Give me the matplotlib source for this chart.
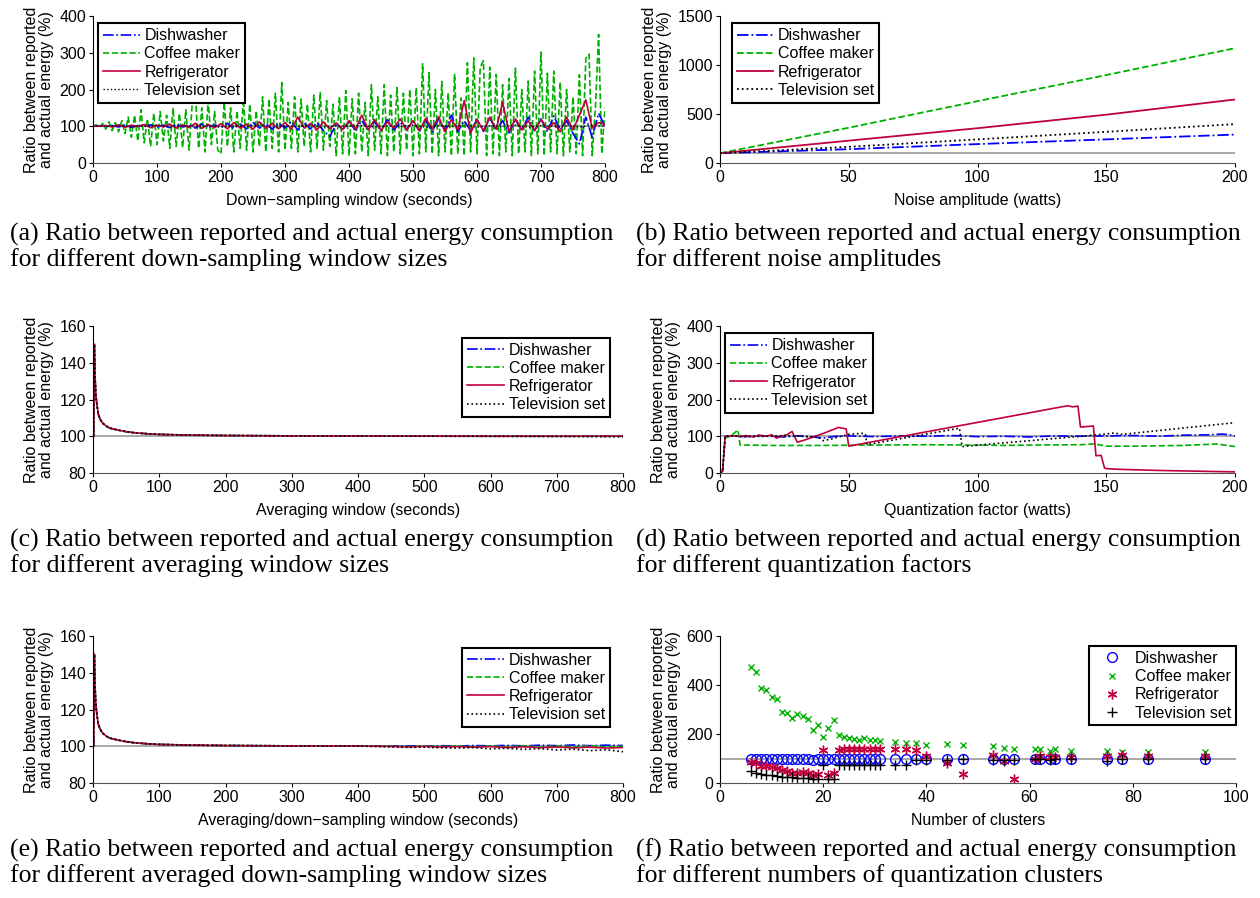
import numpy as np
import matplotlib
matplotlib.use('Agg')
import matplotlib.pyplot as plt

plt.rcParams['font.family'] = ['Liberation Sans', 'DejaVu Sans']
plt.rcParams['font.size'] = 11.5

names = ['Dishwasher', 'Coffee maker', 'Refrigerator', 'Television set']
colors = ['#0000ff', '#00b000', '#c0003c', 'black']
styles = ['-.', '--', '-', ':']
ylab = 'Ratio between reported\nand actual energy (%)'

# (a) down-sampling window: coffee every 5 s, dishwasher/fridge every 10 s, tv every 20 s
ds_coffee = [100, 104, 96, 108, 92, 112, 88, 110, 85, 115,
             80, 125, 70, 130, 60, 145, 55, 120, 45, 135,
             50, 140, 60, 130, 40, 150, 45, 135, 42, 145,
             35, 160, 183, 40, 150, 30, 170, 50, 140, 35,
             25, 165, 45, 150, 30, 142, 40, 175, 35, 160,
             30, 142, 45, 180, 30, 174, 40, 190, 30, 219,
             35, 165, 40, 180, 30, 174, 45, 160, 30, 185,
             40, 192, 35, 170, 45, 160, 20, 180, 25, 197,
             20, 175, 25, 190, 30, 165, 20, 213, 35, 180,
             25, 213, 20, 185, 30, 205, 25, 190, 35, 200,
             20, 205, 25, 270, 30, 246, 25, 200, 20, 222,
             30, 190, 20, 241, 25, 177, 20, 273, 30, 286,
             25, 260, 278, 20, 261, 25, 241, 20, 213, 30,
             230, 20, 258, 25, 200, 30, 223, 20, 250, 25,
             302, 20, 244, 30, 250, 25, 220, 20, 200, 30,
             180, 25, 240, 20, 285, 296, 20, 150, 350, 25, 150]
ds_fridge = [100, 100, 102, 98, 104, 97, 103, 99, 105, 96,
             103, 98, 106, 95, 104, 97, 108, 94, 105, 96,
             107, 93, 110, 95, 106, 92, 112, 94, 108, 93,
             110, 92, 125, 95, 108, 90, 112, 93, 109, 91,
             115, 92, 130, 90, 118, 88, 112, 95, 120, 90,
             115, 88, 122, 92, 126, 85, 118, 90, 170, 82,
             118, 88, 125, 92, 165, 86, 120, 90, 115, 88,
             118, 92, 110, 85, 125, 90, 130, 172, 95, 110, 105]
ds_dish = [100, 101, 99, 102, 98, 103, 97, 102, 99, 104,
           97, 103, 96, 105, 98, 104, 95, 106, 97, 103,
           96, 108, 94, 106, 93, 110, 95, 107, 92, 109,
           95, 112, 90, 108, 93, 110, 88, 72, 105, 92,
           110, 90, 115, 92, 112, 88, 118, 90, 110, 92,
           112, 88, 115, 85, 120, 90, 130, 85, 115, 88,
           118, 86, 122, 90, 115, 82, 118, 90, 125, 88,
           120, 85, 128, 90, 115, 80, 52, 125, 70, 135, 100]
ds_tv = [100, 100, 101, 99, 100, 102, 98, 101, 99, 102,
         98, 101, 99, 103, 97, 101, 99, 102, 98, 101,
         100, 102, 98, 101, 99, 103, 97, 101, 99, 102,
         98, 101, 99, 103, 97, 102, 99, 101, 98, 102, 100]

# (b) noise amplitude
noise_x = [0, 50, 100, 150, 200]
noise_dish = [100, 141, 193, 241, 290]
noise_coffee = [100, 360, 631, 897, 1172]
noise_fridge = [100, 228, 355, 493, 648]
noise_tv = [100, 165, 241, 318, 397]

# (c) averaging window
avg_x = [1, 2, 3, 4, 5, 6, 8, 10, 12, 15, 20, 25, 30, 40, 50, 60, 80, 100, 150, 200, 300, 400, 500, 600, 700, 800]
avg_dish = [100, 150, 133, 125, 120, 117, 112, 110, 108.5, 107, 105.5, 104.5, 104, 103.2, 102.5, 102, 101.4, 101, 100.6, 100.4, 100.2, 100.1, 100.05, 100, 100, 100]
avg_coffee = [100, 150, 133, 125, 120, 117, 112, 110, 108.5, 107, 105.5, 104.5, 104, 103.2, 102.5, 102, 101.4, 101, 100.6, 100.4, 100.2, 100.1, 100.05, 100, 100, 100]
avg_fridge = [100, 150, 133, 125, 120, 117, 112, 110, 108.5, 107, 105.5, 104.5, 104, 103.2, 102.5, 102, 101.4, 101, 100.6, 100.4, 100.2, 100.1, 100.05, 100, 100, 100.1]
avg_tv = [100, 150, 133, 125, 120, 117, 112, 110, 108.5, 107, 105.5, 104.5, 104, 103.2, 102.5, 102, 101.4, 101, 100.6, 100.4, 100.2, 100.1, 100, 100, 99.9, 99.7]

# (d) quantization factor
q_dish_x = [0, 1, 2, 5, 10, 15, 20, 25, 30, 35, 40, 45, 50, 60, 70, 80, 90, 100, 110, 120, 130, 140, 150, 160, 170, 180, 190, 195, 198, 200]
q_dish = [0, 5, 100, 101, 99, 102, 100, 98, 101, 99, 95, 100, 101, 99, 101, 100, 102, 99, 100, 98, 101, 100, 101, 102, 100, 103, 104, 106, 104, 100]
q_coffee_x = [0, 1, 2, 4, 7, 7.8, 10, 20, 40, 60, 80, 100, 110, 120, 140, 145, 148, 150, 160, 180, 190, 193, 198, 200]
q_coffee = [0, 5, 95, 100, 117, 76, 76, 75, 75, 76, 77, 76, 75, 76, 77, 79, 76, 73, 73, 75, 78, 79, 74, 72]
q_fridge_x = [0, 1, 2, 5, 8, 10, 13, 15, 18, 20, 22, 24, 26, 28, 30, 33, 37, 41, 46, 49, 50, 135, 137, 139, 140, 145, 146, 148, 149.3, 150, 155, 170, 200]
q_fridge = [0, 5, 100, 101, 99, 102, 98, 103, 100, 104, 95, 100, 104, 113, 84, 90, 100, 110, 124, 120, 73, 183, 180, 182, 125, 128, 47, 48, 14, 12, 10, 7, 3]
q_tv_x = [0, 1, 2, 5, 10, 20, 25, 28, 30, 35, 38, 40, 43, 47, 50, 55, 56.5, 57, 93, 94, 150, 153, 156, 200]
q_tv = [0, 5, 100, 101, 99, 100, 102, 100, 101, 98, 99, 88, 92, 100, 105, 108, 106, 77, 122, 72, 106, 109, 105, 137]

# (e) averaged down-sampling window
avgds_x = [1, 2, 3, 4, 5, 6, 8, 10, 12, 15, 20, 25, 30, 40, 50, 60, 80, 100, 150, 200, 300, 400,
           450, 475, 500, 525, 550, 575, 600, 625, 650, 675, 700, 725, 750, 775, 800]
avgds_head = [100, 150, 133, 125, 120, 117, 112, 110, 108.5, 107, 105.5, 104.5, 104, 103.2, 102.5, 102, 101.4, 101, 100.6, 100.4, 100.2, 100.1]
avgds_dish = avgds_head + [100.1, 100.2, 100.0, 100.3, 100.1, 100.4, 100.2, 100.5, 100.2, 100.6, 100.3, 100.7, 100.3, 100.6, 100.4]
avgds_coffee = avgds_head + [100, 99.8, 100.1, 99.8, 100.2, 99.7, 100.2, 99.7, 100.3, 99.6, 100.2, 99.7, 100.3, 99.6, 100.0]
avgds_fridge = avgds_head + [99.9, 99.7, 99.9, 99.6, 99.8, 99.5, 99.8, 99.3, 99.7, 99.2, 99.6, 99.1, 99.5, 99.0, 99.3]
avgds_tv = avgds_head + [99.6, 99.4, 99.5, 99.2, 99.0, 99.3, 98.6, 98.9, 98.3, 98.7, 98.0, 98.4, 97.6, 98.1, 97.0]

# (f) quantization clusters
clusters = [6, 7, 8, 9, 10, 11, 12, 13, 14, 15, 16, 17, 18, 19, 20, 21, 22, 23, 24, 25, 26, 27, 28, 29, 30, 31,
            34, 36, 38, 40, 44, 47, 53, 55, 57, 61, 62, 64, 65, 68, 75, 78, 83, 94]
cl_dish = [96, 96, 96, 96, 96, 96, 96, 96, 96, 96, 96, 96, 95, 96, 97, 96, 96, 97, 97, 97, 97, 97, 97, 97, 97, 97,
           97, 97, 97, 97, 97, 97, 97, 97, 97, 97, 97, 97, 97, 97, 97, 97, 97, 97]
cl_coffee = [475, 453, 386, 379, 351, 344, 289, 284, 267, 282, 274, 262, 218, 238, 189, 226, 258, 196, 186, 185, 179, 175, 182, 175, 175, 171,
             166, 162, 162, 155, 158, 155, 149, 144, 137, 137, 137, 132, 137, 132, 130, 126, 125, 125]
cl_fridge = [84, 81, 71, 68, 64, 62, 52, 47, 42, 42, 45, 42, 33, 36, 133, 33, 40, 133, 137, 137, 137, 140, 140, 137, 137, 140,
             140, 137, 134, 111, 81, 38, 116, 90, 18, 100, 112, 107, 107, 107, 112, 116, 111, 110]
cl_tv = [48, 41, 36, 34, 33, 30, 25, 25, 23, 22, 22, 22, 18, 15, 75, 15, 18, 73, 73, 73, 73, 73, 73, 73, 73, 73,
         73, 73, 92, 92, 95, 96, 95, 95, 95, 96, 96, 95, 96, 96, 88, 96, 96, 96]

captions = ['(a) Ratio between reported and actual energy consumption\nfor different down-sampling window sizes',
            '(b) Ratio between reported and actual energy consumption\nfor different noise amplitudes',
            '(c) Ratio between reported and actual energy consumption\nfor different averaging window sizes',
            '(d) Ratio between reported and actual energy consumption\nfor different quantization factors',
            '(e) Ratio between reported and actual energy consumption\nfor different averaged down-sampling window sizes',
            '(f) Ratio between reported and actual energy consumption\nfor different numbers of quantization clusters']

fig = plt.figure(figsize=(12.6, 8.98), dpi=100)
W, H = 1260.0, 898.0

def make_ax(l, r, t, b):
    ax = fig.add_axes([l / W, 1 - b / H, (r - l) / W, (b - t) / H])
    ax.spines['top'].set_visible(False)
    ax.spines['right'].set_visible(False)
    ax.spines['bottom'].set_color('#555555')
    ax.tick_params(direction='out', length=3, labelsize=11.5, pad=2)
    ax.set_ylabel(ylab, fontsize=11.5, labelpad=4, linespacing=1.0)
    return ax

def ref_line(ax, x0, x1):
    ax.plot([x0, x1], [100, 100], color='#999999', lw=1.2, zorder=1)

def leg(ax, anchor, loc):
    l = ax.legend(loc=loc, bbox_to_anchor=anchor, borderaxespad=0, fancybox=False,
                  edgecolor='black', framealpha=1, fontsize=11.5, handlelength=2.3,
                  handletextpad=0.3, labelspacing=0.2, borderpad=0.3)
    l.get_frame().set_linewidth(1.5)

# (a)
ax = make_ax(93, 605, 16, 163)
ref_line(ax, 0, 800)
ax.plot(np.arange(0, 801, 10), ds_dish, styles[0], color=colors[0], lw=1.2, label=names[0], zorder=3)
ax.plot(np.arange(0, 801, 5), ds_coffee, styles[1], color=colors[1], lw=1.2, label=names[1], zorder=2)
ax.plot(np.arange(0, 801, 10), ds_fridge, styles[2], color=colors[2], lw=1.2, label=names[2], zorder=4)
ax.plot(np.arange(0, 801, 20), ds_tv, styles[3], color=colors[3], lw=1.0, label=names[3], zorder=5)
ax.set_xlim(0, 800)
ax.set_ylim(0, 400)
ax.set_xticks(range(0, 801, 100))
ax.set_yticks(range(0, 401, 100))
ax.set_xlabel('Down\u2212sampling window (seconds)', fontsize=11.5, labelpad=6)
leg(ax, (0.01, 0.95), 'upper left')

# (b)
ax = make_ax(720, 1235, 16, 163)
ref_line(ax, 0, 200)
for ys, i in zip([noise_dish, noise_coffee, noise_fridge, noise_tv], range(4)):
    ax.plot(noise_x, ys, styles[i], color=colors[i], lw=1.3, label=names[i])
ax.set_xlim(0, 200)
ax.set_ylim(0, 1500)
ax.set_xticks(range(0, 201, 50))
ax.set_yticks(range(0, 1501, 500))
ax.set_xlabel('Noise amplitude (watts)', fontsize=11.5, labelpad=6)
leg(ax, (0.023, 0.95), 'upper left')

# (c)
ax = make_ax(93, 623, 326, 473)
ref_line(ax, 0, 800)
for ys, i in zip([avg_dish, avg_coffee, avg_fridge, avg_tv], range(4)):
    ax.plot(avg_x, ys, styles[i], color=colors[i], lw=1.2, label=names[i])
ax.set_xlim(0, 800)
ax.set_ylim(80, 160)
ax.set_xticks(range(0, 801, 100))
ax.set_yticks(range(80, 161, 20))
ax.set_xlabel('Averaging window (seconds)', fontsize=11.5, labelpad=6)
leg(ax, (0.975, 0.92), 'upper right')

# (d)
ax = make_ax(720, 1235, 326, 473)
ref_line(ax, 0, 200)
qx = [q_dish_x, q_coffee_x, q_fridge_x, q_tv_x]
qy = [q_dish, q_coffee, q_fridge, q_tv]
for i in range(4):
    ax.plot(qx[i], qy[i], styles[i], color=colors[i], lw=1.2, label=names[i])
ax.set_xlim(0, 200)
ax.set_ylim(0, 400)
ax.set_xticks(range(0, 201, 50))
ax.set_yticks(range(0, 401, 100))
ax.set_xlabel('Quantization factor (watts)', fontsize=11.5, labelpad=6)
leg(ax, (0.01, 0.95), 'upper left')

# (e)
ax = make_ax(93, 623, 636, 783)
ref_line(ax, 0, 800)
for ys, i in zip([avgds_dish, avgds_coffee, avgds_fridge, avgds_tv], range(4)):
    ax.plot(avgds_x, ys, styles[i], color=colors[i], lw=1.2, label=names[i])
ax.set_xlim(0, 800)
ax.set_ylim(80, 160)
ax.set_xticks(range(0, 801, 100))
ax.set_yticks(range(80, 161, 20))
ax.set_xlabel('Averaging/down\u2212sampling window (seconds)', fontsize=11.5, labelpad=6)
leg(ax, (0.975, 0.92), 'upper right')

# (f)
ax = make_ax(720, 1236, 636, 783)
ref_line(ax, 0, 100)
ax.plot(clusters, cl_dish, 'o', mfc='none', mec=colors[0], ms=7, mew=1.0, label=names[0])
ax.plot(clusters, cl_coffee, 'x', color=colors[1], ms=5, mew=1.0, label=names[1])
ax.plot(clusters, cl_fridge, marker=(6, 2, 0), ls='none', color=colors[2], ms=7, mew=1.0, label=names[2])
ax.plot(clusters, cl_tv, '+', color=colors[3], ms=7, mew=1.0, label=names[3])
ax.set_xlim(0, 100)
ax.set_ylim(0, 600)
ax.set_xticks(range(0, 101, 20))
ax.set_yticks(range(0, 601, 200))
ax.set_xlabel('Number of clusters', fontsize=11.5, labelpad=6)
leg(ax, (1.0, 0.93), 'upper right')

# captions under each panel
cap_pos = [(10, 247), (636, 247), (10, 553), (636, 553), (10, 863), (636, 863)]
for (cx, cy), txt in zip(cap_pos, captions):
    fig.text(cx / W, 1 - cy / H, txt, family=['Liberation Serif', 'DejaVu Serif'],
             fontsize=18.5, va='center', ha='left', linespacing=1.12)

plt.savefig('out.png', dpi=100)
